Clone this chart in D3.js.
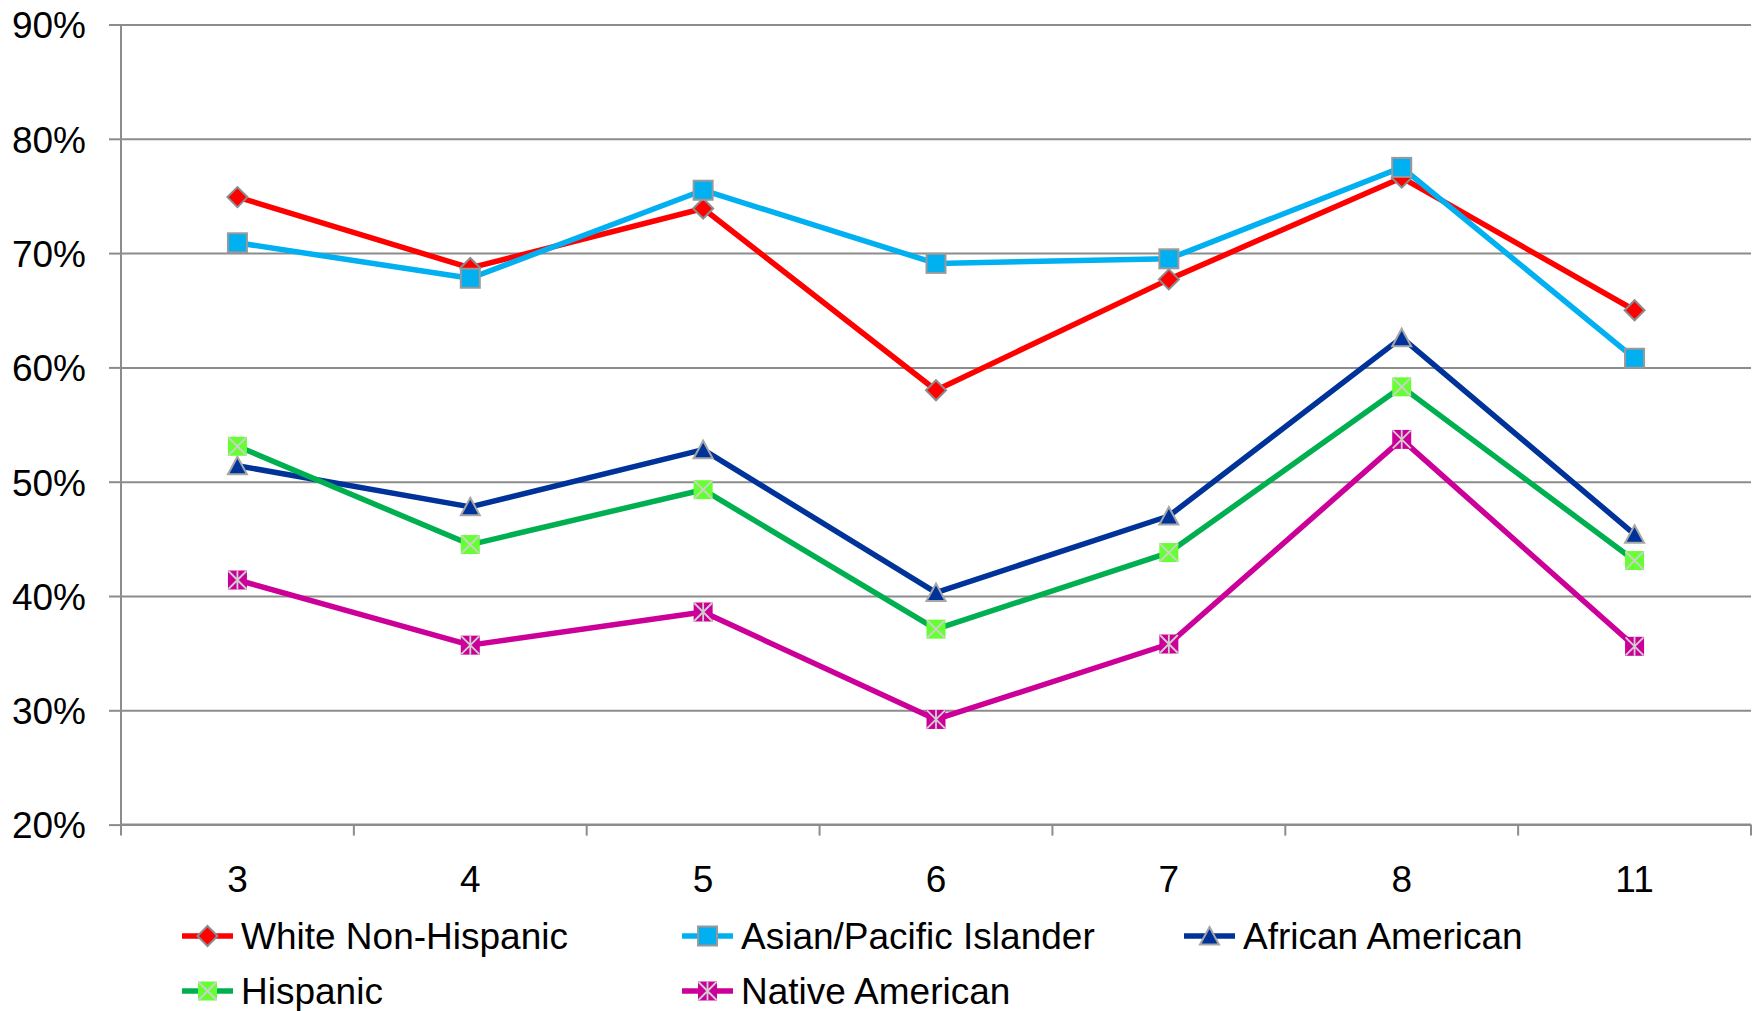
<!DOCTYPE html>
<html>
<head>
<meta charset="utf-8">
<script src="https://cdn.jsdelivr.net/npm/d3@7"></script>
<style>
  html, body { margin: 0; padding: 0; background: #fff; }
  svg text { font-family: "Liberation Sans", Arial, sans-serif; fill: #000; }
</style>
</head>
<body>
<svg id="chart" width="1756" height="1011"></svg>
<script>
// Grade levels on the x axis
const grades = ["3", "4", "5", "6", "7", "8", "11"];

// Percent proficient by group, one value per grade
const whiteNonHispanic = [74.9, 68.7, 73.9, 58.0, 67.7, 76.6, 65.0];
const asianPacific     = [70.9, 67.8, 75.5, 69.1, 69.5, 77.5, 60.8];
const africanAmerican  = [51.4, 47.8, 52.8, 40.3, 47.0, 62.6, 45.4];
const hispanic         = [53.1, 44.5, 49.3, 37.1, 43.8, 58.3, 43.1];
const nativeAmerican   = [41.4, 35.7, 38.6, 29.2, 35.8, 53.7, 35.6];

const seriesNames = ["White Non-Hispanic", "Asian/Pacific Islander", "African American", "Hispanic", "Native American"];
const yTicks = [20, 30, 40, 50, 60, 70, 80, 90];

const series = [
  { name: seriesNames[0], values: whiteNonHispanic, line: "#FF0000", fill: "#FF0000", marker: "diamond" },
  { name: seriesNames[1], values: asianPacific,     line: "#00B0F0", fill: "#00B0F0", marker: "square" },
  { name: seriesNames[2], values: africanAmerican,  line: "#003399", fill: "#003399", marker: "triangle" },
  { name: seriesNames[3], values: hispanic,         line: "#00B050", fill: "#66FF33", marker: "xsquare" },
  { name: seriesNames[4], values: nativeAmerican,   line: "#CC0099", fill: "#CC0099", marker: "starsquare" }
];

const svg = d3.select("#chart");
const plot = { left: 121, right: 1751, top: 24.5, bottom: 824.6 };

const x = d3.scaleBand().domain(grades).range([plot.left, plot.right]).paddingInner(0).paddingOuter(0);
const y = d3.scaleLinear().domain([20, 90]).range([plot.bottom, plot.top]);

const gridColor = "#8C8C8C";
const labelFont = "'Liberation Sans', Arial, sans-serif";

// Horizontal gridlines
const grid = svg.append("g")
  .attr("transform", `translate(${plot.left},0)`)
  .call(d3.axisLeft(y).tickValues(yTicks).tickSize(-(plot.right - plot.left)).tickFormat(""));
grid.select(".domain").remove();
grid.selectAll("line").attr("stroke", gridColor).attr("stroke-width", 2);

// Y axis with outward ticks and percent labels
const yAxis = svg.append("g")
  .attr("transform", `translate(${plot.left},0)`)
  .call(d3.axisLeft(y).tickValues(yTicks).tickSize(12).tickPadding(23).tickFormat(d => d + "%"));
yAxis.select(".domain").attr("stroke", gridColor).attr("stroke-width", 2)
  .attr("d", `M0,${plot.top}V${plot.bottom}`);
yAxis.selectAll("line").attr("stroke", gridColor).attr("stroke-width", 2);
yAxis.selectAll("text").attr("font-size", 37).attr("dy", "0.36em")
  .style("font-family", labelFont);

// X axis: baseline, tick marks at category boundaries, labels at centers
const xAxis = svg.append("g")
  .attr("transform", `translate(0,${plot.bottom})`)
  .call(d3.axisBottom(x).tickSize(0).tickPadding(41));
xAxis.select(".domain").attr("stroke", gridColor).attr("stroke-width", 2)
  .attr("d", `M${plot.left},0H${plot.right}`);
xAxis.selectAll("text").attr("font-size", 37)
  .style("font-family", labelFont);

const boundaries = grades.map(g => x(g)).concat([x.range()[1]]);
xAxis.selectAll("line.boundary")
  .data(boundaries)
  .join("line")
  .attr("class", "boundary")
  .attr("x1", d => d).attr("x2", d => d)
  .attr("y1", 0).attr("y2", 11)
  .attr("stroke", gridColor).attr("stroke-width", 2);

// Marker drawing
function drawMarker(g, type, fill) {
  const cross = "#D0D0D0";
  if (type === "diamond") {
    g.append("path").attr("d", "M0,-10L10,0L0,10L-10,0Z")
      .attr("fill", fill).attr("stroke", "#8C8C8C").attr("stroke-width", 2);
  } else if (type === "square") {
    g.append("rect").attr("x", -9.5).attr("y", -9.5).attr("width", 19).attr("height", 19)
      .attr("fill", fill).attr("stroke", "#999999").attr("stroke-width", 2);
  } else if (type === "triangle") {
    g.append("path").attr("d", "M0,-9L9.5,8.5L-9.5,8.5Z")
      .attr("fill", fill).attr("stroke", "#A6A6A6").attr("stroke-width", 2);
  } else if (type === "xsquare") {
    g.append("rect").attr("x", -9.5).attr("y", -9.5).attr("width", 19).attr("height", 19)
      .attr("fill", fill);
    g.append("path").attr("d", "M-9,-9L9,9M9,-9L-9,9")
      .attr("stroke", cross).attr("stroke-width", 1.8).attr("fill", "none");
  } else if (type === "starsquare") {
    g.append("rect").attr("x", -9.5).attr("y", -9.5).attr("width", 19).attr("height", 19)
      .attr("fill", fill);
    g.append("path").attr("d", "M-9,-9L9,9M9,-9L-9,9M0,-9.5V9.5")
      .attr("stroke", cross).attr("stroke-width", 1.8).attr("fill", "none");
  }
}

const line = d3.line()
  .x((d, i) => x(grades[i]) + x.bandwidth() / 2)
  .y(d => y(d));

// Series lines and markers
series.forEach(s => {
  const g = svg.append("g").attr("class", "series");
  g.append("path")
    .attr("d", line(s.values))
    .attr("fill", "none")
    .attr("stroke", s.line)
    .attr("stroke-width", 5.5)
    .attr("stroke-linejoin", "round");
  s.values.forEach((v, i) => {
    const m = g.append("g")
      .attr("transform", `translate(${x(grades[i]) + x.bandwidth() / 2},${y(v)})`);
    drawMarker(m, s.marker, s.fill);
  });
});

// Legend
const legendPos = [
  { x: 182, y: 936 }, { x: 682, y: 936 }, { x: 1184, y: 936 },
  { x: 182, y: 991 }, { x: 682, y: 991 }
];
series.forEach((s, i) => {
  const p = legendPos[i];
  const g = svg.append("g").attr("transform", `translate(${p.x},${p.y})`);
  g.append("line").attr("x1", 0).attr("x2", 51).attr("y1", 0).attr("y2", 0)
    .attr("stroke", s.line).attr("stroke-width", 5.5);
  const m = g.append("g").attr("transform", "translate(25.5,0)");
  drawMarker(m, s.marker, s.fill);
  g.append("text").attr("x", 59).attr("y", 0).attr("dy", "0.36em")
    .attr("font-size", 37).text(s.name);
});
</script>
</body>
</html>
